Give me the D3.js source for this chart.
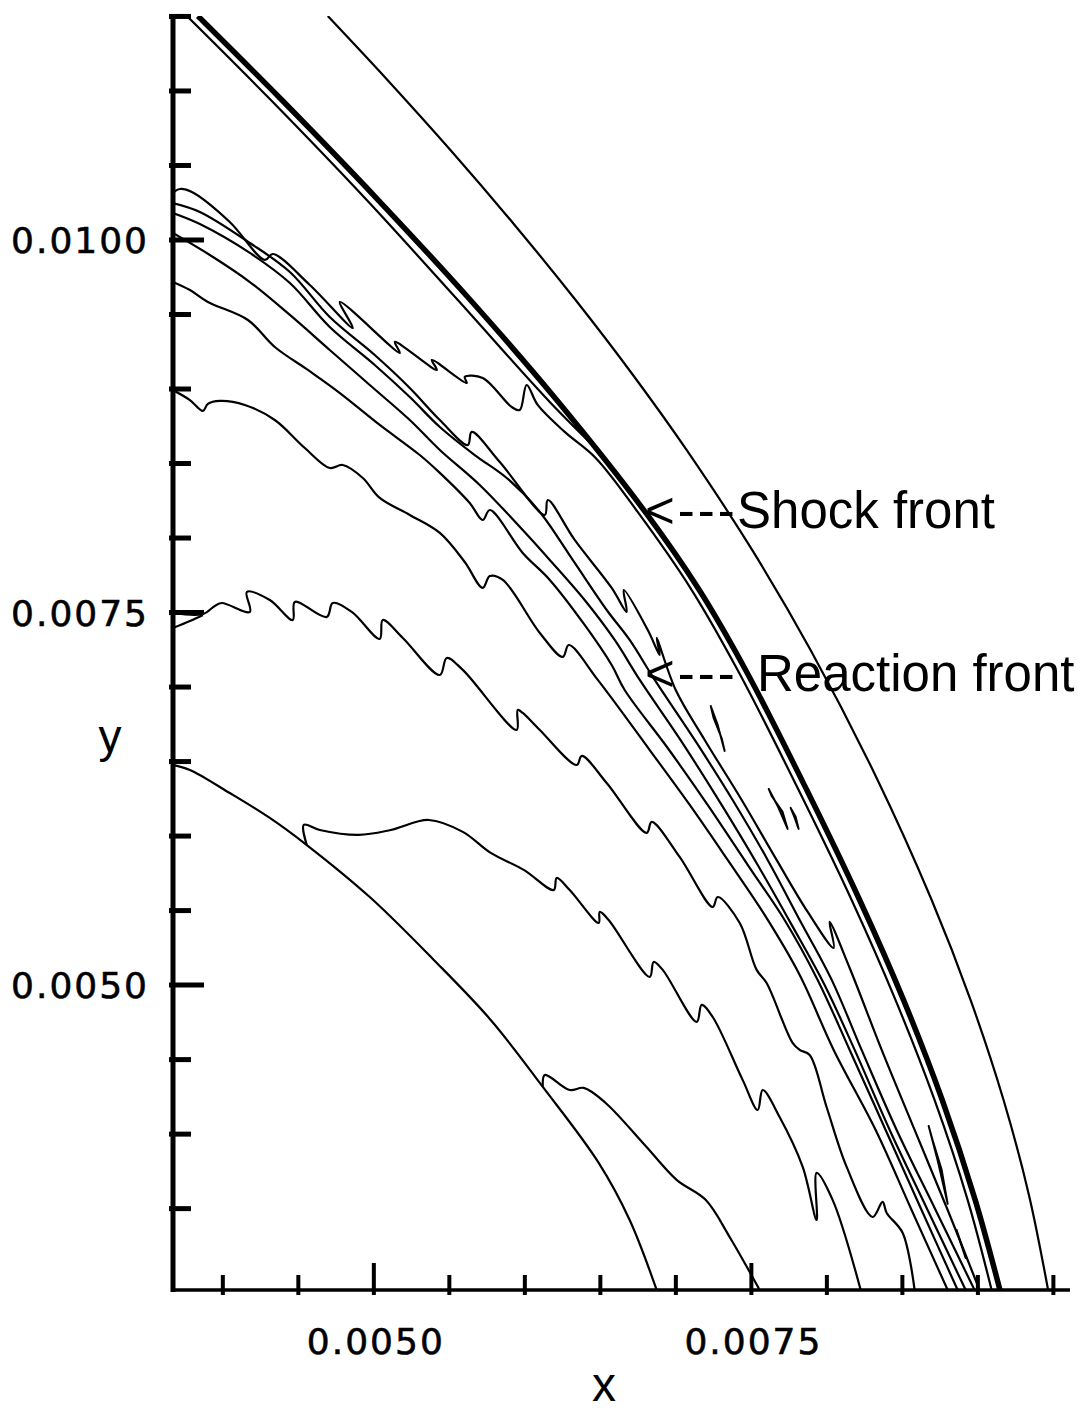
<!DOCTYPE html>
<html>
<head>
<meta charset="utf-8">
<script src="https://cdn.jsdelivr.net/npm/d3@7/dist/d3.min.js"></script>
<style>
  body { margin: 0; background: #fff; }
  text { font-family: "Liberation Sans", Arial, Helvetica, sans-serif; fill: #000; }
  .ticklab { font-family: "DejaVu Sans", Arial, sans-serif; stroke: #000; stroke-width: 0.6px; }
</style>
</head>
<body>
<div id="chart"></div>
<script>
// ---- contour data, [x, y] in metres ----
var outerArc = [[0.004695,0.011503],[0.005090,0.011074],[0.005507,0.010604],[0.005932,0.010101],[0.006336,0.009597],[0.006716,0.009094],[0.007071,0.008591],[0.007505,0.007920],[0.007892,0.007249],[0.008320,0.006410],[0.008694,0.005571],[0.008952,0.004899],[0.009170,0.004229],[0.009338,0.003592],[0.009465,0.002954]];

var shockFront = [[0.003835,0.011503],[0.004391,0.010939],[0.005029,0.010268],[0.005639,0.009597],[0.006211,0.008926],[0.006797,0.008175],[0.007155,0.007651],[0.007469,0.007101],[0.007867,0.006309],[0.008217,0.005571],[0.008508,0.004899],[0.008764,0.004229],[0.008982,0.003559],[0.009146,0.002954]];

var shockInner = [[0.003762,0.011503],[0.004318,0.010939],[0.004953,0.010268],[0.005556,0.009597],[0.006165,0.008913],[0.006516,0.008557]];

var react0 = [[0.003669,0.010315],[0.003715,0.010342],[0.003795,0.010322],[0.004046,0.010121],[0.004278,0.009866],[0.004331,0.009906],[0.004576,0.009698],[0.004861,0.009409],[0.004775,0.009584],[0.005172,0.009242],[0.005139,0.009316],[0.005417,0.009128],[0.005384,0.009195],[0.005615,0.009040],[0.005602,0.009081],[0.005721,0.009074],[0.005913,0.008879],[0.005966,0.008859],[0.006012,0.009027],[0.006085,0.008893],[0.006264,0.008712],[0.006469,0.008537],[0.006747,0.008175],[0.007105,0.007651],[0.007416,0.007101],[0.007813,0.006309],[0.008164,0.005571],[0.008455,0.004899],[0.008713,0.004229],[0.008932,0.003559],[0.009091,0.002954]];

var react1 = [[0.003669,0.010248],[0.003848,0.010188],[0.004179,0.009980],[0.004444,0.009785],[0.004708,0.009483],[0.005006,0.009228],[0.005238,0.009007],[0.005437,0.008792],[0.005622,0.008624],[0.005648,0.008712],[0.005834,0.008510],[0.006132,0.008155],[0.006152,0.008255],[0.006330,0.007987],[0.006575,0.007665],[0.006674,0.007504],[0.006655,0.007651],[0.006814,0.007383],[0.006893,0.007215],[0.006873,0.007329],[0.006999,0.006980],[0.007191,0.006645],[0.007436,0.006242],[0.007667,0.005840],[0.007873,0.005491],[0.008045,0.005249],[0.008018,0.005424],[0.008151,0.005115],[0.008363,0.004565],[0.008581,0.004028],[0.008800,0.003491],[0.009011,0.002954]];

var react2 = [[0.003669,0.010181],[0.003848,0.010107],[0.004179,0.009913],[0.004444,0.009711],[0.004708,0.009416],[0.005006,0.009161],[0.005238,0.008946],[0.005437,0.008745],[0.005668,0.008557],[0.005880,0.008403],[0.006099,0.008175],[0.006317,0.007853],[0.006542,0.007517],[0.006694,0.007316],[0.006860,0.007048],[0.007125,0.006645],[0.007376,0.006242],[0.007608,0.005840],[0.007820,0.005437],[0.008032,0.005035],[0.008230,0.004565],[0.008462,0.004028],[0.008720,0.003491],[0.008978,0.002954]];

var react3 = [[0.003669,0.010047],[0.003914,0.009899],[0.004179,0.009718],[0.004444,0.009497],[0.004708,0.009262],[0.004973,0.009027],[0.005238,0.008792],[0.005437,0.008591],[0.005701,0.008356],[0.005986,0.008054],[0.006165,0.007853],[0.006396,0.007584],[0.006595,0.007316],[0.006761,0.007048],[0.007039,0.006632],[0.007303,0.006209],[0.007542,0.005806],[0.007767,0.005404],[0.007985,0.005001],[0.008184,0.004565],[0.008416,0.004028],[0.008667,0.003491],[0.008919,0.002954]];

var react4 = [[0.003669,0.009718],[0.003782,0.009664],[0.003901,0.009584],[0.004166,0.009463],[0.004344,0.009282],[0.004563,0.009128],[0.004775,0.008973],[0.005039,0.008759],[0.005304,0.008557],[0.005437,0.008437],[0.005635,0.008235],[0.005721,0.008121],[0.005768,0.008188],[0.005986,0.007900],[0.006165,0.007719],[0.006396,0.007417],[0.006575,0.007148],[0.006661,0.006980],[0.006946,0.006591],[0.007224,0.006189],[0.007489,0.005786],[0.007720,0.005437],[0.007939,0.005035],[0.008151,0.004565],[0.008389,0.004028],[0.008627,0.003491],[0.008866,0.002954]];

var react5 = [[0.003669,0.008993],[0.003782,0.008926],[0.003868,0.008853],[0.003901,0.008900],[0.003980,0.008920],[0.004146,0.008893],[0.004344,0.008792],[0.004543,0.008604],[0.004708,0.008470],[0.004794,0.008490],[0.004927,0.008403],[0.005039,0.008269],[0.005238,0.008155],[0.005437,0.008034],[0.005602,0.007839],[0.005721,0.007665],[0.005768,0.007745],[0.005854,0.007719],[0.006099,0.007363],[0.006251,0.007202],[0.006291,0.007282],[0.006483,0.007048],[0.006827,0.006577],[0.007092,0.006209],[0.007343,0.005840],[0.007588,0.005471],[0.007820,0.005068],[0.008045,0.004565],[0.008323,0.004028],[0.008561,0.003491],[0.008800,0.002954]];

var react6 = [[0.003669,0.007497],[0.003868,0.007490],[0.003947,0.007544],[0.003993,0.007564],[0.004179,0.007504],[0.004159,0.007638],[0.004311,0.007584],[0.004463,0.007450],[0.004477,0.007571],[0.004688,0.007470],[0.004728,0.007564],[0.004854,0.007504],[0.005039,0.007323],[0.005059,0.007450],[0.005192,0.007329],[0.005437,0.007081],[0.005483,0.007195],[0.005589,0.007115],[0.005946,0.006712],[0.005953,0.006846],[0.005986,0.006826],[0.006099,0.006712],[0.006343,0.006477],[0.006377,0.006538],[0.006542,0.006356],[0.006807,0.006021],[0.006840,0.006095],[0.007025,0.005860],[0.007244,0.005524],[0.007277,0.005591],[0.007423,0.005417],[0.007535,0.005102],[0.007601,0.005014],[0.007773,0.004612],[0.007820,0.004565],[0.007886,0.004531],[0.007998,0.004182],[0.008131,0.003780],[0.008303,0.003444],[0.008369,0.003545],[0.008396,0.003471],[0.008502,0.003337],[0.008581,0.002954]];

var react6b = [[0.003669,0.007396],[0.003782,0.007443],[0.003868,0.007484]];

var lowerA = [[0.004556,0.005940],[0.004536,0.006075],[0.004642,0.006041],[0.004900,0.006008],[0.005112,0.006041],[0.005364,0.006108],[0.005589,0.006028],[0.005774,0.005887],[0.005993,0.005773],[0.006191,0.005638],[0.006211,0.005719],[0.006297,0.005638],[0.006489,0.005417],[0.006496,0.005491],[0.006555,0.005437],[0.006827,0.005055],[0.006853,0.005155],[0.006913,0.005102],[0.007138,0.004753],[0.007171,0.004867],[0.007244,0.004786],[0.007442,0.004364],[0.007542,0.004162],[0.007575,0.004296],[0.007687,0.004115],[0.007840,0.003780],[0.007932,0.003424],[0.007932,0.003740],[0.008038,0.003559],[0.008224,0.002954]];

var lowerB = [[0.006119,0.004317],[0.006132,0.004397],[0.006297,0.004296],[0.006390,0.004310],[0.006535,0.004209],[0.006794,0.003927],[0.007005,0.003693],[0.007197,0.003559],[0.007356,0.003310],[0.007555,0.002954]];

var innerArc = [[0.003669,0.006477],[0.003782,0.006444],[0.004046,0.006289],[0.004311,0.006122],[0.004556,0.005940],[0.004973,0.005591],[0.005397,0.005169],[0.005774,0.004766],[0.006119,0.004317],[0.006489,0.003807],[0.006694,0.003424],[0.006873,0.002954]];

// small closed islands between the reaction front and the shock
var island1 = [[0.007231,0.006873],[0.007277,0.006746],[0.007323,0.006571],[0.007303,0.006658],[0.007250,0.006793]];
var island2 = [[0.007615,0.006316],[0.007674,0.006202],[0.007740,0.006048],[0.007707,0.006162],[0.007634,0.006269]];
var island3 = [[0.007760,0.006189],[0.007787,0.006122],[0.007813,0.006048],[0.007793,0.006129]];
var island4 = [[0.008674,0.004055],[0.008733,0.003827],[0.008800,0.003532],[0.008760,0.003760],[0.008700,0.003961]];
var island5 = [[0.008859,0.003357],[0.008892,0.003256],[0.008919,0.003169],[0.008886,0.003270]];

// ---- axes ----
var xDomain = [0.00367, 0.00961];
var yDomain = [0.002954, 0.011503];
var xMajor = [0.0050, 0.0075];
var xMinor = [0.0040, 0.0045, 0.0055, 0.0060, 0.0065, 0.0070, 0.0080, 0.0085, 0.0090, 0.0095];
var xTickLabels = ["0.0050", "0.0075"];
var yMajor = [0.0050, 0.0075, 0.0100];
var yMinor = [0.0035, 0.0040, 0.0045, 0.0055, 0.0060, 0.0065, 0.0070, 0.0080, 0.0085, 0.0090, 0.0095, 0.0105, 0.0110, 0.0115];
var yTickLabels = ["0.0050", "0.0075", "0.0100"];

var width = 1092, height = 1414;
var margin = {top: 16, left: 173};
var plotW = 897, plotH = 1274;

var svg = d3.select("#chart").append("svg")
    .attr("width", width)
    .attr("height", height)
    .style("background", "#fff");

var g = svg.append("g")
    .attr("transform", "translate(" + margin.left + "," + margin.top + ")");

var x = d3.scaleLinear().domain(xDomain).range([0, plotW]);
var y = d3.scaleLinear().domain(yDomain).range([plotH, 0]);

g.append("clipPath").attr("id", "plotclip")
  .append("rect").attr("x", 0).attr("y", 0).attr("width", plotW).attr("height", plotH);

var line = d3.line()
    .x(function(d) { return x(d[0]); })
    .y(function(d) { return y(d[1]); })
    .curve(d3.curveCatmullRom.alpha(0.5));

var loop = d3.line()
    .x(function(d) { return x(d[0]); })
    .y(function(d) { return y(d[1]); })
    .curve(d3.curveLinearClosed);

var thin = 2.2;
var curves = [
  {data: outerArc,   w: thin},
  {data: innerArc,   w: thin},
  {data: lowerB,     w: thin},
  {data: lowerA,     w: thin},
  {data: react6,     w: thin},
  {data: react6b,    w: thin},
  {data: react5,     w: thin},
  {data: react4,     w: thin},
  {data: react3,     w: thin},
  {data: react2,     w: thin},
  {data: react1,     w: thin},
  {data: react0,     w: thin},
  {data: shockInner, w: thin},
  {data: shockFront, w: 5.5}
];
var islands = [island1, island2, island3, island4, island5];

var plot = g.append("g").attr("clip-path", "url(#plotclip)");

plot.selectAll("path.contour")
  .data(curves)
  .enter().append("path")
    .attr("class", "contour")
    .attr("d", function(d) { return line(d.data); })
    .style("fill", "none")
    .style("stroke", "#000")
    .style("stroke-width", function(d) { return d.w; })
    .style("stroke-linejoin", "round");

plot.selectAll("path.island")
  .data(islands)
  .enter().append("path")
    .attr("class", "island")
    .attr("d", loop)
    .style("fill", "none")
    .style("stroke", "#000")
    .style("stroke-width", 2)
    .style("stroke-linejoin", "round");

// axis lines
g.append("line")
    .attr("x1", 0).attr("x2", 0).attr("y1", 0).attr("y2", plotH + 2)
    .style("stroke", "#000").style("stroke-width", 5);
g.append("line")
    .attr("x1", -2).attr("x2", plotW).attr("y1", plotH).attr("y2", plotH)
    .style("stroke", "#000").style("stroke-width", 3.5);

// y ticks (inward)
g.selectAll(".ytick-minor").data(yMinor).enter().append("line")
    .attr("x1", -4).attr("x2", 18)
    .attr("y1", function(d) { return y(d); }).attr("y2", function(d) { return y(d); })
    .style("stroke", "#000").style("stroke-width", 5);
g.selectAll(".ytick-major").data(yMajor).enter().append("line")
    .attr("x1", -4).attr("x2", 31)
    .attr("y1", function(d) { return y(d); }).attr("y2", function(d) { return y(d); })
    .style("stroke", "#000").style("stroke-width", 5);

// x ticks (inward)
g.selectAll(".xtick-minor").data(xMinor).enter().append("line")
    .attr("y1", plotH + 5).attr("y2", plotH - 15)
    .attr("x1", function(d) { return x(d); }).attr("x2", function(d) { return x(d); })
    .style("stroke", "#000").style("stroke-width", 4);
g.selectAll(".xtick-major").data(xMajor).enter().append("line")
    .attr("y1", plotH + 5).attr("y2", plotH - 27)
    .attr("x1", function(d) { return x(d); }).attr("x2", function(d) { return x(d); })
    .style("stroke", "#000").style("stroke-width", 4);

// tick labels
g.selectAll(".ylab").data(yMajor).enter().append("text")
    .attr("class", "ticklab")
    .attr("x", -24)
    .attr("y", function(d) { return y(d); })
    .attr("dy", "0.36em")
    .attr("text-anchor", "end")
    .style("font-size", "36px")
    .style("letter-spacing", "2px")
    .text(function(d, i) { return yTickLabels[i]; });

g.selectAll(".xlab").data(xMajor).enter().append("text")
    .attr("class", "ticklab")
    .attr("x", function(d) { return x(d) + 2; })
    .attr("y", plotH + 64)
    .attr("text-anchor", "middle")
    .style("font-size", "36px")
    .style("letter-spacing", "2px")
    .text(function(d, i) { return xTickLabels[i]; });

// axis titles
svg.append("text").attr("x", 110).attr("y", 752)
    .attr("text-anchor", "middle").style("font-size", "46px").text("y");
svg.append("text").attr("x", 604).attr("y", 1401)
    .attr("text-anchor", "middle").style("font-size", "48px").text("x");

// annotations
var notes = [
  {arrow: "<---", label: "Shock front",    ax: 645, lx: 737, by: 528},
  {arrow: "<---", label: "Reaction front", ax: 645, lx: 757, by: 691}
];
svg.selectAll(".arrow").data(notes).enter().append("text")
    .attr("x", function(d) { return d.ax; })
    .attr("y", function(d) { return d.by; })
    .style("font-size", "51px")
    .style("letter-spacing", "3px")
    .text(function(d) { return d.arrow; });
svg.selectAll(".note").data(notes).enter().append("text")
    .attr("x", function(d) { return d.lx; })
    .attr("y", function(d) { return d.by; })
    .style("font-size", "51px")
    .text(function(d) { return d.label; });
</script>
</body>
</html>
